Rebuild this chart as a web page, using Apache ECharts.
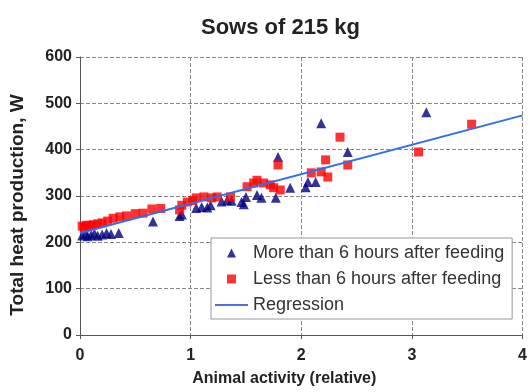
<!DOCTYPE html>
<html>
<head>
<meta charset="utf-8">
<title>Sows of 215 kg</title>
<script src="https://cdn.jsdelivr.net/npm/echarts@6/dist/echarts.min.js"></script>
<style>
  html, body { margin: 0; padding: 0; background: #fff; }
  #chart { width: 530px; height: 392px; }
</style>
</head>
<body>
<div id="chart"></div>
<script>
// activity (relative), heat production (W)
var moreThan6h = [
  [0.02, 215], [0.05, 218], [0.07, 213], [0.10, 216], [0.13, 219], [0.16, 214],
  [0.20, 217], [0.24, 220], [0.28, 218], [0.35, 220], [0.66, 245], [0.90, 257],
  [0.92, 260], [1.05, 274], [1.10, 276], [1.15, 275], [1.18, 280], [1.28, 288],
  [1.33, 291], [1.37, 290], [1.46, 287], [1.48, 282], [1.50, 298], [1.60, 302],
  [1.64, 296], [1.77, 296], [1.79, 384], [1.90, 318], [2.04, 319], [2.06, 330],
  [2.13, 330], [2.18, 457], [2.42, 395], [3.13, 481]
];
var lessThan6h = [
  [0.02, 235], [0.04, 232], [0.06, 237], [0.09, 236], [0.12, 238], [0.16, 240],
  [0.20, 242], [0.25, 246], [0.30, 252], [0.36, 255], [0.42, 257], [0.50, 262],
  [0.57, 263], [0.65, 272], [0.73, 273], [0.90, 270], [0.92, 280], [0.97, 287],
  [1.02, 290], [1.05, 296], [1.12, 298], [1.19, 296], [1.24, 298], [1.36, 298],
  [1.51, 320], [1.57, 328], [1.60, 334], [1.66, 328], [1.72, 324], [1.75, 318],
  [1.79, 367], [1.81, 313], [2.09, 350], [2.18, 352], [2.22, 378], [2.24, 341],
  [2.35, 427], [2.42, 367], [3.06, 395], [3.54, 455]
];
var regX = [0, 4];
var regY = [220, 474];

var font = '"Liberation Sans", Arial, sans-serif';
var chart = echarts.init(document.getElementById('chart'));

var option = {
  animation: false,
  backgroundColor: '#fff',
  title: {
    text: 'Sows of 215 kg',
    left: 196,
    top: 12,
    textStyle: { fontFamily: font, fontSize: 22, fontWeight: 'bold', color: '#222' }
  },
  legend: {
    orient: 'vertical',
    left: 211,
    top: 238,
    padding: [6, 8, 5, 4],
    itemGap: 8,
    itemWidth: 33,
    itemHeight: 9,
    backgroundColor: '#fff',
    borderColor: '#999',
    borderWidth: 1,
    textStyle: { fontFamily: font, fontSize: 18, color: '#333' },
    data: [
      { name: 'More than 6 hours after feeding', icon: 'path://M0,10L5,0L10,10Z' },
      { name: 'Less than 6 hours after feeding', icon: 'path://M0,0H10V10H0Z' },
      { name: 'Regression', icon: 'path://M0,0H33V2H0Z' }
    ]
  },
  grid: { left: 80, right: 4, top: 57, bottom: 57 },
  xAxis: {
    type: 'value',
    min: 0, max: 4, interval: 1,
    name: 'Animal activity (relative)',
    nameLocation: 'middle',
    nameGap: 36,
    nameTextStyle: { fontFamily: font, fontSize: 16, fontWeight: 'bold', color: '#222', padding: [0, 34, 0, 0] },
    axisLine: { onZero: false, lineStyle: { color: '#555' } },
    axisTick: { show: true, length: 4, lineStyle: { color: '#555' } },
    axisLabel: { fontFamily: font, fontSize: 16, fontWeight: 'bold', color: '#222', margin: 13 },
    splitLine: { show: true, lineStyle: { color: '#888', type: 'dashed', width: 1 } }
  },
  yAxis: {
    type: 'value',
    min: 0, max: 600, interval: 100,
    name: 'Total heat production, W',
    nameLocation: 'middle',
    nameGap: 53,
    nameTextStyle: { fontFamily: font, fontSize: 19, fontWeight: 'bold', color: '#222', padding: [0, 18, 0, 0] },
    axisLine: { show: true, lineStyle: { color: '#555' } },
    axisTick: { show: true, length: 4, lineStyle: { color: '#555' } },
    axisLabel: { fontFamily: font, fontSize: 16, fontWeight: 'bold', color: '#222', margin: 8 },
    splitLine: { show: true, lineStyle: { color: '#888', type: 'dashed', width: 1 } }
  },
  series: [
    {
      name: 'More than 6 hours after feeding',
      type: 'scatter',
      symbol: 'triangle',
      symbolSize: 10,
      itemStyle: { color: '#000080' },
      data: moreThan6h,
      z: 3
    },
    {
      name: 'Less than 6 hours after feeding',
      type: 'scatter',
      symbol: 'rect',
      symbolSize: 9,
      itemStyle: { color: '#ff0000' },
      data: lessThan6h,
      z: 4
    },
    {
      name: 'Regression',
      type: 'line',
      symbol: 'none',
      lineStyle: { color: '#2f6fec', width: 2 },
      data: regX.map(function (x, i) { return [x, regY[i]]; }),
      z: 5
    }
  ]
};
chart.setOption(option);
</script>
</body>
</html>
